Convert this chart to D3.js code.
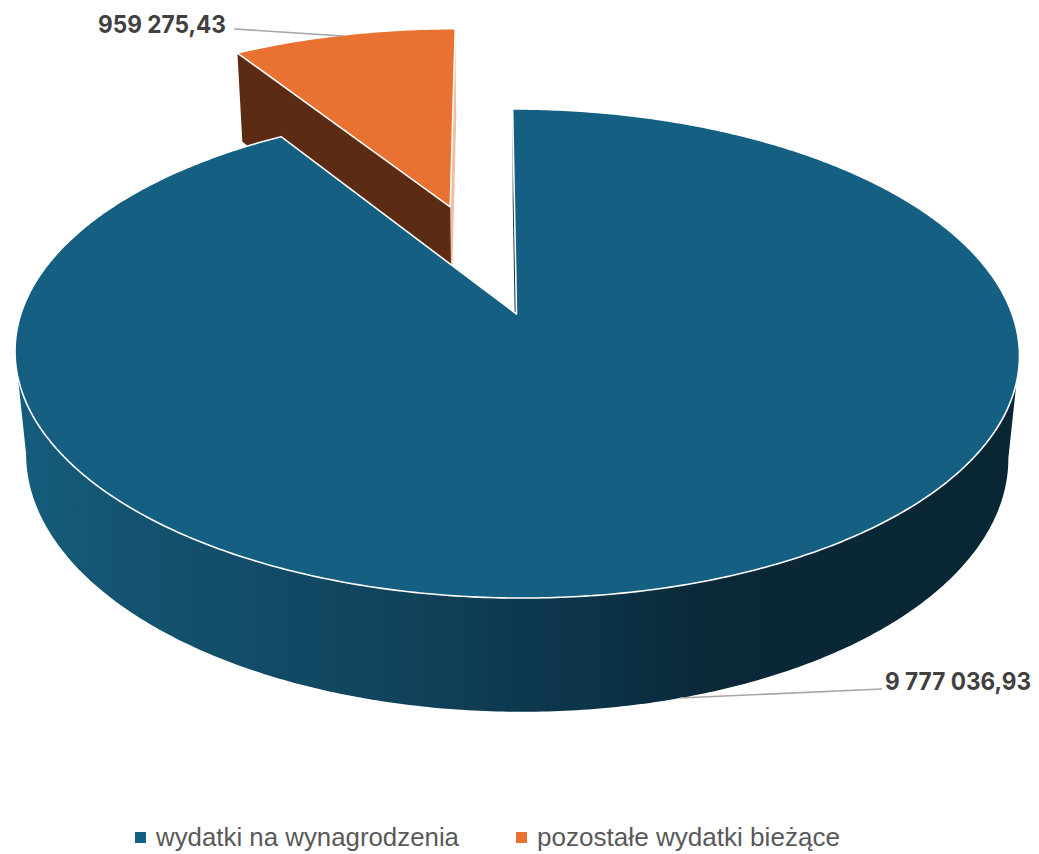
<!DOCTYPE html>
<html><head><meta charset="utf-8">
<script src="https://d3js.org/d3.v7.min.js"></script>
<style>html,body{margin:0;background:#fff}svg{display:block}</style></head>
<body><svg id="c" width="1039" height="854"></svg>
<script>
const categories = ["wydatki na wynagrodzenia", "pozostałe wydatki bieżące"];
const values = [9777036.93, 959275.43];
const valueLabels = ["9 777 036,93", "959 275,43"];
const topColors = ["#156082", "#E97132"];

const svg = d3.select("#c");
const P = {cx:516.5, dx:495.6, skew:4.5, a:187.4, b:314, c:-0.1616, drop:111, k:0.022};
function proj(u, v, bottom) {
  const den = 1 + P.c * v + (bottom ? P.k : 0);
  return [P.cx + (P.dx * u + P.skew * v) / den,
          (P.a * v + P.b + (bottom ? P.drop : 0)) / den];
}
const explode = 0.505;
const arcs = d3.pie().sort(null).value(d => d)(values);

// horizontal shading of the rim wall
const wallX = [15, 120, 250, 400, 530, 640, 720, 1020];
const wallColors = ["#155c7c", "#145471", "#124c68", "#10435b", "#0d384e", "#0b2f41", "#0a2838", "#092634"];
const grad = svg.append("defs").append("linearGradient").attr("id", "wall")
  .attr("gradientUnits", "userSpaceOnUse").attr("x1", wallX[0]).attr("x2", wallX[wallX.length - 1]).attr("y1", 0).attr("y2", 0);
const xPos = d3.scaleLinear().domain([wallX[0], wallX[wallX.length - 1]]).range([0, 1]);
wallX.forEach((x, i) => grad.append("stop").attr("offset", xPos(x)).attr("stop-color", wallColors[i]));
const brown = "#5C2B13", paleOrange = "#F3BFA2", darkWall = "#0a2a3b";

function ring(a0, a1, off, bottom) {
  const n = Math.max(2, Math.ceil((a1 - a0) / 0.01));
  return d3.range(n + 1).map(i => {
    const t = a0 + (a1 - a0) * i / n;
    return proj(Math.sin(t) + off[0], -Math.cos(t) + off[1], bottom);
  });
}
const line = d3.line();

function drawSlice(d, i) {
  const mid = (d.startAngle + d.endAngle) / 2;
  const off = i === 1 ? [explode * Math.sin(mid), -explode * Math.cos(mid)] : [0, 0];
  const g = svg.append("g");
  const apexT = proj(off[0], off[1], false), apexB = proj(off[0], off[1], true);
  const top = ring(d.startAngle, d.endAngle, off, false);
  const bot = ring(d.startAngle, d.endAngle, off, true);
  const first = [apexT, top[0], bot[0], apexB];
  const last = [apexT, top[top.length - 1], bot[bot.length - 1], apexB];
  if (i === 0) {
    g.append("path").attr("d", line(first) + "Z").attr("fill", darkWall);
    g.append("path").attr("d", line(last) + "Z").attr("fill", darkWall);
    // front-facing part of the rim, one path so no seams appear
    let dd = "";
    for (let s = 0; s < top.length - 1; s++) {
      if (top[s + 1][0] < top[s][0]) dd += line([top[s], top[s + 1], bot[s + 1], bot[s]]) + "Z";
    }
    g.append("path").attr("d", dd).attr("fill", "url(#wall)");
  } else {
    g.append("path").attr("d", line(last) + "Z").attr("fill", paleOrange);
    g.append("path").attr("d", line(first) + "Z").attr("fill", brown);
  }
  return {g, top, apexT};
}
const orange = drawSlice(arcs[1], 1);
orange.g.append("path").attr("d", line([orange.apexT, ...orange.top]) + "Z")
  .attr("fill", topColors[1]).attr("stroke", "#fff").attr("stroke-width", 1.5).attr("stroke-linejoin", "round");

const blue = drawSlice(arcs[0], 0);
blue.g.append("path").attr("d", line([blue.apexT, ...blue.top]) + "Z")
  .attr("fill", topColors[0]).attr("stroke", "#fff").attr("stroke-width", 1.6).attr("stroke-linejoin", "round");

// leader lines
const leaders = [[[680, 698], [882, 689]], [[343, 36], [234, 29]]];
leaders.forEach(l => svg.append("path").attr("d", line(l)).attr("fill", "none")
  .attr("stroke", "#A6A6A6").attr("stroke-width", 1.6));

// value labels
const labelPos = [[885, 690], [98, 33]];
const labelWidth = [146, 128];
valueLabels.forEach((t, i) => svg.append("text").text(t)
  .attr("x", labelPos[i][0]).attr("y", labelPos[i][1])
  .attr("font-family", "Inter, 'Liberation Sans', sans-serif")
  .attr("font-weight", 700).attr("font-size", 24).attr("fill", "#404040")
  .attr("textLength", labelWidth[i]).attr("lengthAdjust", "spacingAndGlyphs"));

// legend
const legendX = [135, 516], textX = [156, 537];
categories.forEach((t, i) => {
  svg.append("rect").attr("x", legendX[i]).attr("y", 832).attr("width", 11).attr("height", 11).attr("fill", topColors[i]);
  svg.append("text").text(t).attr("x", textX[i]).attr("y", 845.5)
    .attr("font-family", "'Liberation Sans Narrow', 'Liberation Sans', sans-serif")
    .attr("font-size", 26).attr("fill", "#595959")
    .attr("textLength", 303).attr("lengthAdjust", "spacingAndGlyphs");
});
</script></body></html>
